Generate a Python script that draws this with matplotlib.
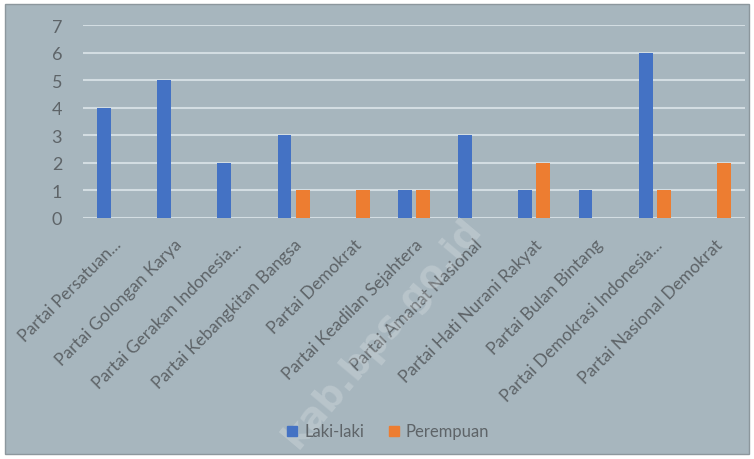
import numpy as np
import matplotlib.pyplot as plt
from matplotlib.patches import Rectangle
from matplotlib.lines import Line2D

# data
partai = ["Partai Persatuan...", "Partai Golongan Karya", "Partai Gerakan Indonesia...",
          "Partai Kebangkitan Bangsa", "Partai Demokrat", "Partai Keadilan Sejahtera",
          "Partai Amanat Nasional", "Partai Hati Nurani Rakyat", "Partai Bulan Bintang",
          "Partai Demokrasi Indonesia...", "Partai Nasional Demokrat"]
laki = [4, 5, 2, 3, 0, 1, 3, 1, 1, 6, 0]
perempuan = [0, 0, 0, 1, 1, 1, 0, 2, 0, 1, 2]

plt.rcParams['font.family'] = ['Lato', 'DejaVu Sans']

bg = "#a7b6be"
txt = "#5e6468"
biru, oranye = "#4472c4", "#ed7d31"
fig = plt.figure(figsize=(7.54, 4.60), dpi=100, facecolor="white")
fig.patches.append(Rectangle((0.006, 0.01), 0.988, 0.98, transform=fig.transFigure,
                             facecolor=bg, edgecolor="#8c979d", linewidth=1, zorder=-10))
ax = fig.add_axes([0.110, 0.524, 0.878, 0.419])
ax.set_facecolor("none")

x = np.arange(len(partai))
w = 0.23
ax.bar(x - 0.15, laki, w, color=biru, zorder=3)
ax.bar(x + 0.15, perempuan, w, color=oranye, zorder=3)

ax.set_ylim(0, 7)
ax.set_xlim(-0.5, len(partai) - 0.5)
ax.set_yticks(range(8))
ax.yaxis.grid(True, color="#d3dde2", linewidth=1.5, zorder=0)
for s in ax.spines.values():
    s.set_visible(False)
ax.tick_params(length=0, colors=txt)
ax.tick_params(axis="y", pad=15, labelsize=13)
ax.tick_params(axis="x", pad=13)
ax.set_xticks(x)
ax.set_xticklabels(partai, rotation=45, ha="right", rotation_mode="anchor", fontsize=12.5, color=txt)

handles = [Line2D([], [], marker="s", ls="", color=biru, markersize=7.5),
           Line2D([], [], marker="s", ls="", color=oranye, markersize=7.5)]
fig.legend(handles, ["Laki-laki", "Perempuan"], loc="center", bbox_to_anchor=(0.515, 0.06),
           ncol=2, frameon=False, fontsize=12, labelcolor=txt, handlelength=0.6,
           columnspacing=1.5, handletextpad=0.4)

# watermark
fig.text(0.508, 0.275, "kab.bps.go.id", rotation=50, fontsize=27, fontweight="bold",
         family="DejaVu Sans", color="white", alpha=0.2, ha="center", va="center")

fig.savefig("out.png", dpi=100, facecolor="white")
